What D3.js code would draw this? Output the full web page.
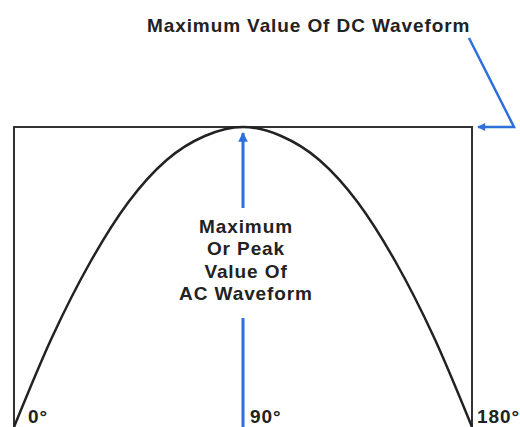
<!DOCTYPE html>
<html>
<head>
<meta charset="utf-8">
<script src="https://cdn.jsdelivr.net/npm/d3@7"></script>
<style>
	body { margin: 0; background: #fff; }
	text { font-family: "Liberation Sans", Arial, sans-serif; font-weight: bold; font-size: 19px; letter-spacing: 0.9px; fill: #222; }
</style>
</head>
<body>
<div id="chart"></div>
<script>
// angle (degrees) along the half cycle and height of the AC waveform (peak = 1)
const angles = [0, 15, 30, 45, 60, 75, 90, 105, 120, 135, 150, 165, 180];
const acValues = [0, 0.30, 0.55, 0.75, 0.89, 0.97, 1, 0.97, 0.89, 0.75, 0.55, 0.30, 0];
const dcValue = 1;
const tickAngles = [0, 90, 180];
const tickLabels = ["0°", "90°", "180°"];
const titleText = "Maximum Value Of DC Waveform";
const peakLabel = ["Maximum", "Or Peak", "Value Of", "AC Waveform"];

const width = 520, height = 427;
const blue = "#2f6fdc";

let svg = d3.select("#chart").append("svg").attr("width", width).attr("height", height);

let x = d3.scaleLinear().domain([0, 180]).range([14, 472]);
let y = d3.scaleLinear().domain([0, 1]).range([427, 127]);

// arrow heads
let defs = svg.append("defs");
defs.append("marker").attr("id", "head").attr("viewBox", "0 0 10 10")
	.attr("refX", 9).attr("refY", 5).attr("markerWidth", 3.6).attr("markerHeight", 3.2)
	.attr("markerUnits", "strokeWidth").attr("orient", "auto")
	.append("path").attr("d", "M0,0 L10,5 L0,10 Z").attr("fill", blue);

// DC level box
svg.append("path")
	.attr("d", "M" + x(0) + "," + y(0) + " V" + y(dcValue) + " H" + x(180) + " V" + y(0))
	.attr("fill", "none").attr("stroke", "#333").attr("stroke-width", 2);

// AC half cycle
let line = d3.line().x((d, i) => x(angles[i])).y(d => y(d)).curve(d3.curveMonotoneX);
svg.append("path").datum(acValues).attr("d", line)
	.attr("fill", "none").attr("stroke", "#222").attr("stroke-width", 2.5);

// peak arrow (split round the label)
svg.append("line").attr("x1", x(90)).attr("x2", x(90)).attr("y1", y(0)).attr("y2", 318)
	.attr("stroke", blue).attr("stroke-width", 3);
svg.append("line").attr("x1", x(90)).attr("x2", x(90)).attr("y1", 208).attr("y2", y(dcValue) + 6)
	.attr("stroke", blue).attr("stroke-width", 3).attr("marker-end", "url(#head)");

// DC pointer
svg.append("polyline")
	.attr("points", [[469, 38], [514, y(dcValue)], [x(180) + 6, y(dcValue)]].map(p => p.join(",")).join(" "))
	.attr("fill", "none").attr("stroke", blue).attr("stroke-width", 2.5).attr("marker-end", "url(#head)");

// texts
svg.append("text").attr("x", 147).attr("y", 32).text(titleText);

svg.selectAll(".peak").data(peakLabel).enter().append("text")
	.attr("class", "peak").attr("x", x(90) + 3).attr("y", (d, i) => 233 + i * 22.3)
	.attr("text-anchor", "middle").text(d => d);

let offs = [14, 7, 5];
svg.selectAll(".tick").data(tickAngles).enter().append("text")
	.attr("class", "tick").attr("x", (d, i) => x(d) + offs[i]).attr("y", 423)
	.text((d, i) => tickLabels[i]);
</script>
</body>
</html>
